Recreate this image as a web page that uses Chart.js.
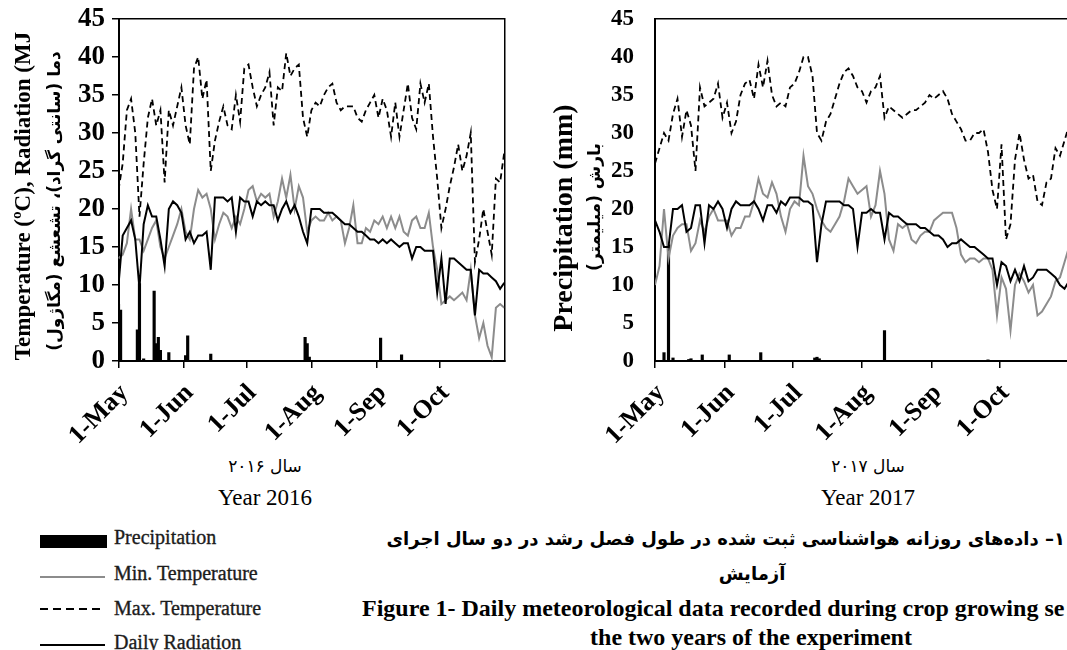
<!DOCTYPE html>
<html lang="en">
<head>
<meta charset="utf-8">
<title>Daily meteorological data 2016 - 2017</title>
<script src="https://cdn.jsdelivr.net/npm/chart.js@4.4.1/dist/chart.umd.min.js"></script>
<style>
  html, body { margin: 0; padding: 0; background: #fff; }
  body { position: relative; width: 1067px; height: 650px; overflow: hidden;
         font-family: 'Liberation Serif', 'Times New Roman', serif; color: #000; }
  canvas { position: absolute; top: 0; }
  #chart2016 { left: 0; }
  #chart2017 { left: 540px; }
  .txt { position: absolute; white-space: nowrap; line-height: 1; }
  .fa { font-family: 'DejaVu Sans', sans-serif; }
  .vert { transform: rotate(-90deg); width: 420px; text-align: center; font-weight: bold; }
  .ctr { text-align: center; }
  .sw { position: absolute; }
  .leg { font-size: 20px; color: #1c1c1c; -webkit-text-stroke: 0.35px #1c1c1c; }
</style>
</head>
<body>
<canvas id="chart2016" width="520" height="450"></canvas>
<canvas id="chart2017" width="540" height="450"></canvas>

<!-- axis titles -->
<div class="txt vert" style="left:-187px; top:183px; font-size:23px; line-height:26px;">Temperature (ºC), Radiation (MJ</div>
<div class="txt vert fa" dir="rtl" style="left:-156px; top:189px; font-size:17px; line-height:24px;">دما (سانتی گراد)، تشعشع (مگاژول)</div>
<div class="txt vert" style="left:353px; top:203px; font-size:28px; line-height:30px;">Precipitation (mm)</div>
<div class="txt vert fa" dir="rtl" style="left:384px; top:195px; font-size:17px; line-height:24px;">بارش (میلیمتر)</div>

<!-- year labels -->
<div class="txt ctr fa" dir="rtl" style="left:115px; width:300px; top:458px; font-size:17px;">سال ۲۰۱۶</div>
<div class="txt ctr" style="left:115px; width:300px; top:486px; font-size:23px;">Year 2016</div>
<div class="txt ctr fa" dir="rtl" style="left:718px; width:300px; top:458px; font-size:17px;">سال ۲۰۱۷</div>
<div class="txt ctr" style="left:718px; width:300px; top:486px; font-size:23px;">Year 2017</div>

<!-- legend -->
<div class="sw" style="left:40px; top:535px; width:67px; height:13px; background:#000;"></div>
<div class="txt leg" style="left:114px; top:527px;">Precipitation</div>
<div class="sw" style="left:40px; top:576px; width:65px; height:1.5px; background:#8c8c8c;"></div>
<div class="txt leg" style="left:114px; top:563px;">Min. Temperature</div>
<div class="sw" style="left:40px; top:608px; width:65px; height:1.5px; background:repeating-linear-gradient(90deg,#000 0 8px,transparent 8px 13px);"></div>
<div class="txt leg" style="left:114px; top:598px;">Max. Temperature</div>
<div class="sw" style="left:40px; top:644px; width:65px; height:2px; background:#000;"></div>
<div class="txt leg" style="left:114px; top:632px;">Daily Radiation</div>

<!-- figure caption -->
<div class="txt fa" dir="rtl" style="right:2px; top:530px; font-size:18px; font-weight:bold;">۱– داده‌های روزانه هواشناسی ثبت شده در طول فصل رشد در دو سال اجرای</div>
<div class="txt ctr fa" dir="rtl" style="left:652px; width:200px; top:565px; font-size:18px; font-weight:bold;">آزمایش</div>
<div class="txt" style="left:362px; top:596px; font-size:24px; font-weight:bold;">Figure 1- Daily meteorological data recorded during crop growing se</div>
<div class="txt ctr" style="left:451px; width:600px; top:625px; font-size:24px; font-weight:bold;">the two years of the experiment</div>

<script>
// x axis: days counted from 1-May, season ends 1-Nov
const monthStarts = [0, 31, 61, 92, 123, 153];
const monthLabels = ['1-May', '1-Jun', '1-Jul', '1-Aug', '1-Sep', '1-Oct'];
const seasonDays = 184;
const step = 2; // one reading every second day

// ---- 2016 ----
const tmax2016 = [22.5, 26, 33, 34.5, 30, 19, 26, 32, 34.5, 31,
  33, 23.5, 33, 31, 33.5, 36, 31, 28.5, 38.5, 40,
  34.5, 37, 25, 29, 31.5, 33.5, 31, 30.5, 35, 31.5,
  38.5, 39, 36, 33.5, 35, 36, 38, 31, 36, 35.5,
  40.5, 37.5, 38.5, 39, 32, 29.5, 33, 34, 33.5, 35,
  36, 36.5, 34, 33, 33.5, 33.5, 33.5, 32, 31.5, 33,
  34, 35, 32, 34.5, 33, 29.5, 34, 29.5, 33, 36.5,
  32, 30.5, 36.5, 34, 36.5, 29.5, 24, 17.5, 20, 23,
  25.5, 28.5, 25, 27, 30, 13, 16, 20, 17, 14,
  24, 23.5, 27.5];
const tmin2016 = [13.5, 14, 15.5, 20, 16, 16, 14.5, 16, 17.5, 18.5,
  15, 13.5, 15, 16.5, 18, 20, 17, 16, 20, 22.5,
  21.5, 22, 20, 16, 18, 19.5, 19, 17.5, 19, 18,
  20, 22.5, 23, 21, 22, 21.5, 22, 19, 21, 24,
  21.5, 24.5, 20, 23, 21.5, 17, 18.5, 19, 18.5, 18.5,
  19.5, 18.5, 19, 18.5, 15.5, 17.5, 20.5, 15.5, 15.5, 17.5,
  17, 18.5, 18, 19, 17.5, 19, 17.5, 19, 17, 16.5,
  18.5, 19, 17.5, 17.5, 19.5, 15, 12, 7.5, 8, 8.5,
  8, 8.5, 9, 8, 12, 6, 3, 5, 2, 0.5,
  7, 7.5, 7];
const rad2016 = [10, 16.5, 17.5, 18.5, 16, 9.5, 18, 20.5, 19, 19,
  16, 12.5, 20, 21, 20.5, 19.5, 16, 17, 15.5, 16.5,
  16.5, 17, 12, 21.5, 21.5, 21.5, 21, 21.5, 17, 21.5,
  21, 21, 19, 21, 20.5, 21, 20.5, 20.5, 18.5, 20,
  21, 19.5, 20.5, 19, 17, 15.5, 20, 20, 20, 19.5,
  19.5, 19.5, 19, 18.5, 18, 18, 17.5, 17, 17, 16.5,
  16, 16, 15.5, 16, 15.5, 16, 15.5, 15, 15.5, 15.5,
  13.5, 15, 15, 14.5, 14.5, 14.5, 9, 13.5, 7.5, 13.5,
  13.5, 13, 12.5, 12, 12, 6, 12, 11.5, 11.5, 11,
  10.5, 9.5, 10.3];
const rainDays2016 = [0, 1, 9, 10, 12, 17, 18, 19, 20, 24, 32, 33, 44, 89, 90, 91, 125, 135];
const rain2016 = [7.5, 6.7, 4.1, 10.2, 0.3, 9.2, 2.3, 3.1, 1.4, 1.1, 0.7, 3.3, 0.9, 3.1, 2.3, 0.5, 3, 0.8];

// ---- 2017 ----
const tmax2017 = [26, 28, 30, 29, 32.5, 34.5, 29.5, 33, 31, 25,
  36, 33.5, 34, 34.5, 36.5, 32, 34, 30, 31.5, 35,
  36.5, 37, 34.5, 39, 36, 39.5, 35, 33.5, 34, 33.5,
  36, 36.5, 38, 40, 40, 37.5, 30, 29, 31.5, 32.5,
  34.5, 36.5, 38, 38.5, 37.5, 36, 35.5, 34, 35.5, 36,
  37.5, 32, 33.5, 33, 32.5, 32, 32.5, 33, 33, 33.5,
  34, 35, 34.5, 35, 35.5, 34.5, 32.5, 31.5, 30.5, 29,
  29, 30, 30, 30.5, 27.5, 22.5, 20, 28.5, 16, 18,
  26.5, 30, 26.5, 24, 24.5, 21, 20.5, 23.5, 24, 28,
  27, 29, 31];
const tmin2017 = [10, 12.5, 20, 13.5, 16.5, 17.5, 18, 18, 14.5, 15.5,
  18.5, 17, 19, 20, 18.5, 18.5, 18.5, 16.5, 17.5, 17.5,
  19, 19, 21, 24, 22, 21.5, 23.5, 22, 19, 17,
  20, 21, 20.5, 27, 23, 22, 20, 18.5, 17.5, 17,
  18, 19, 21, 24, 23, 22, 22.5, 23, 19, 20.5,
  25, 22, 16, 14.5, 18, 17.5, 18, 16, 15.5, 16.5,
  17, 17, 18.5, 19, 19.5, 19.5, 19.5, 17.5, 14, 13,
  13.5, 13.5, 13, 13.5, 13.5, 12, 6, 11, 9.5, 4,
  10, 11.5, 10.5, 9, 10, 6, 6.5, 7.5, 8.5, 10.5,
  11, 13, 15];
const rad2017 = [18.5, 17, 15, 15, 20, 20, 20.5, 17, 17.5, 20.5,
  20.5, 15.5, 20.5, 20, 21, 20, 17.5, 20, 21, 20.5,
  20.5, 20.5, 21, 20, 18.5, 20.5, 20.5, 19.5, 21, 20.5,
  21.5, 21.5, 21.5, 21, 21, 20.5, 13, 18, 21, 21,
  21, 21, 20.5, 20.5, 20, 15, 19.5, 19.5, 20, 19.5,
  19.5, 16, 19.5, 19, 19, 18.5, 18, 18, 18, 17.5,
  17.5, 17, 16.5, 16.5, 16, 15, 15.5, 15.5, 16, 15.5,
  15, 15, 14.5, 14, 13.5, 13.5, 10, 13, 12.5, 10.5,
  12, 10.5, 12.5, 10.5, 11, 12, 12, 12, 11.5, 11,
  10, 9.5, 10.5];
const rainDays2017 = [4, 6, 8, 15, 16, 21, 33, 47, 71, 72, 73, 102, 148];
const rain2017 = [1.1, 15.3, 0.4, 0.2, 0.3, 0.8, 0.8, 1.1, 0.4, 0.5, 0.3, 4, 0.15];

const serif = "'Liberation Serif', 'Times New Roman', serif";
const pts = vals => vals.map((v, i) => ({ x: i * step, y: v }));
const bars = (d, v) => d.map((day, i) => ({ x: day, y: v[i] }));

function drawSeason(id, s) {
  const scales = {
    x: {
      type: 'linear', min: 0, max: seasonDays, offset: false,
      afterBuildTicks: sc => { sc.ticks = monthStarts.map(v => ({ value: v })); },
      afterFit: sc => { sc.height = 89; },
      ticks: {
        autoSkip: false, minRotation: 45, maxRotation: 45, padding: 10, labelOffset: 6, color: '#000',
        font: { family: serif, weight: 'bold', size: 26 },
        callback: v => monthLabels[monthStarts.indexOf(v)]
      },
      grid: { offset: false, drawOnChartArea: false, drawTicks: true, tickLength: 7, color: '#000', lineWidth: 1.5 },
      border: { color: '#000', width: 2 }
    },
    y: {
      min: 0, max: 45,
      // fixed axis width; no extra room above "45"
      afterFit: sc => { sc.width = s.yWidth; sc.paddingTop = 0; sc.paddingBottom = 0; },
      ticks: { stepSize: 5, padding: s.yPad, color: '#000', font: { family: serif, weight: 'bold', size: s.yFont } },
      grid: { drawOnChartArea: false, drawTicks: s.yTicks, tickLength: 6.5, color: '#000', lineWidth: 1.5 },
      border: { color: '#000', width: 2 }
    },
    xTop: {
      axis: 'x', type: 'linear', position: 'top', min: 0, max: seasonDays, offset: false,
      ticks: { display: false },
      grid: { offset: false, drawOnChartArea: false, drawTicks: false },
      border: { color: '#000', width: 1.5 },
      afterFit: sc => { sc.height = 0; }
    }
  };
  if (s.rightBorder) {
    scales.yRight = {
      axis: 'y', position: 'right', min: 0, max: 45,
      ticks: { display: false },
      grid: { drawOnChartArea: false, drawTicks: false },
      border: { color: '#000', width: 1.5 },
      afterFit: sc => { sc.width = 0; sc.paddingTop = 0; sc.paddingBottom = 0; }
    };
  }
  return new Chart(document.getElementById(id), {
    type: 'line',
    data: {
      datasets: [
        { label: 'Daily Radiation', data: pts(s.rad), borderColor: '#000', borderWidth: 2 },
        { label: 'Min. Temperature', data: pts(s.tmin), borderColor: '#8c8c8c', borderWidth: 2 },
        { label: 'Max. Temperature', data: pts(s.tmax), borderColor: '#000', borderWidth: 1.8, borderDash: [6, 4] },
        { type: 'bar', label: 'Precipitation', data: bars(s.rainDays, s.rain), backgroundColor: '#000', barThickness: s.barW }
      ]
    },
    options: {
      responsive: false,
      devicePixelRatio: 1,
      animation: false,
      layout: { padding: { top: 19, right: s.padRight, left: 0, bottom: 0 } },
      elements: { point: { radius: 0 }, line: { tension: 0 } },
      plugins: { legend: { display: false }, tooltip: { enabled: false } },
      scales
    }
  });
}

drawSeason('chart2016', {
  tmax: tmax2016, tmin: tmin2016, rad: rad2016, rainDays: rainDays2016, rain: rain2016,
  yWidth: 118.5, yPad: 7, yFont: 27, yTicks: true, padRight: 15.7, rightBorder: true, barW: 2.5
});
drawSeason('chart2017', {
  tmax: tmax2017, tmin: tmin2017, rad: rad2017, rainDays: rainDays2017, rain: rain2017,
  yWidth: 115, yPad: 21, yFont: 23, yTicks: false, padRight: 11, rightBorder: false, barW: 2.5
});
</script>
</body>
</html>
